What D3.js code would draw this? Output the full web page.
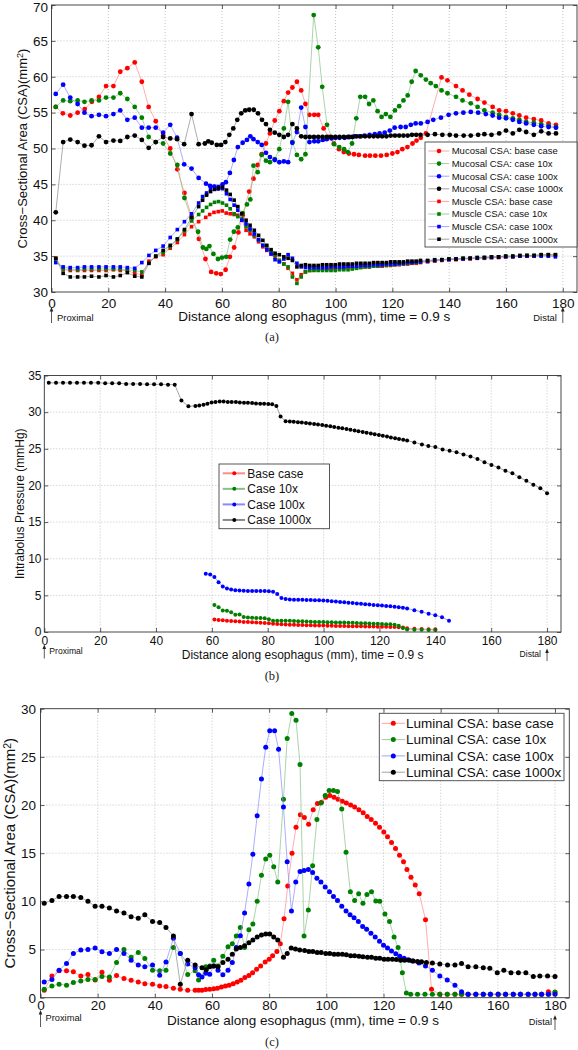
<!DOCTYPE html>
<html><head><meta charset="utf-8">
<script src="https://cdn.jsdelivr.net/npm/d3@7"></script>
<style>
body{margin:0;background:#fff;}
svg{display:block;font-family:"Liberation Sans",Arial,Helvetica,sans-serif;}
</style></head><body>
<svg id="chart" width="578" height="1050"></svg>
<script>
// ---------------- tick labels ----------------
const xTicks = [0,20,40,60,80,100,120,140,160,180];
const aYTicks = [30,35,40,45,50,55,60,65,70];
const bYTicks = [0,5,10,15,20,25,30,35];
const cYTicks = [0,5,10,15,20,25,30];

// ---------------- panel (a): mucosal CSA ----------------
const aMucBase = [[1.5,55.8],[4.0,54.9],[6.6,54.6],[9.2,55.0],[11.7,55.5],[14.2,56.5],[16.7,57.2],[19.2,58.7],[21.8,58.7],[24.2,60.7],[26.7,61.2],[29.3,62.0],[31.8,59.3],[34.2,55.8],[36.7,53.8],[39.3,51.8],[41.8,50.0],[44.3,47.1],[46.8,43.8],[49.3,40.5],[51.9,37.4],[54.2,34.6],[56.2,32.8],[58.0,32.6],[59.6,32.5],[61.3,33.1],[62.8,34.9],[64.3,36.2],[65.8,38.3],[67.3,40.7],[69.6,44.0],[71.1,45.8],[72.6,47.7],[74.0,49.2],[75.5,50.7],[76.9,52.1],[78.6,53.9],[80.2,55.2],[81.8,56.6],[83.3,57.8],[84.8,58.5],[86.4,59.3],[87.9,58.1],[89.4,56.2],[90.8,54.7],[92.5,54.7],[93.9,54.7],[95.8,52.8],[97.6,51.6],[99.4,50.7],[101.2,49.9],[102.9,49.5],[104.7,49.3],[106.5,49.2],[108.2,49.1],[110.4,49.0],[112.1,49.0],[114.0,49.0],[116.0,49.0],[118.0,49.1],[120.0,49.3],[121.8,49.5],[123.5,49.9],[125.3,50.2],[127.1,50.7],[128.5,51.1],[130.0,51.5],[131.8,52.1],[137.3,59.9],[139.4,59.5],[142.4,58.7],[144.7,58.1],[147.1,57.5],[150.0,56.9],[152.4,56.4],[155.3,55.8],[157.6,55.3],[160.0,55.2],[162.4,54.9],[164.7,54.6],[167.1,54.3],[169.8,54.1],[172.4,53.9],[175.0,53.5],[177.6,53.3]];
const aMuc10x = [[1.5,55.8],[4.1,56.7],[6.6,56.6],[9.2,56.7],[11.6,56.5],[14.1,56.7],[16.7,56.7],[19.2,57.1],[21.8,57.1],[24.2,57.7],[26.7,56.9],[29.3,55.8],[31.8,54.3],[34.2,51.6],[36.7,50.9],[39.3,50.7],[41.8,49.3],[44.3,47.7],[46.8,43.1],[49.3,40.2],[51.6,38.4],[53.3,36.2],[54.5,36.0],[55.6,36.4],[57.0,35.3],[58.6,34.6],[60.0,34.8],[61.5,34.9],[62.9,37.3],[64.2,38.4],[65.6,39.0],[67.3,41.0],[68.8,42.2],[70.0,42.9],[71.1,47.6],[72.6,46.7],[74.0,49.1],[75.5,48.3],[76.9,48.1],[78.6,48.5],[80.2,49.9],[81.8,52.8],[83.3,56.5],[84.8,50.9],[86.4,49.1],[87.9,48.5],[89.4,49.2],[92.3,68.6],[93.9,64.1],[95.3,58.6],[97.0,53.3],[99.5,50.6],[101.3,50.2],[103.0,49.9],[104.3,49.5],[105.8,50.7],[107.3,54.2],[108.7,57.2],[110.4,57.2],[111.8,56.2],[113.3,56.7],[114.8,55.2],[116.2,54.4],[117.7,54.8],[119.3,54.4],[120.9,55.3],[122.4,55.9],[123.9,56.7],[125.4,57.4],[126.8,59.3],[128.2,60.8],[130.0,60.2],[131.8,59.6],[133.5,59.1],[135.3,58.7],[137.3,58.1],[139.4,57.7],[142.4,57.2],[144.7,56.7],[147.6,56.3],[150.0,55.8],[152.4,55.3],[155.3,55.0],[157.6,54.7],[160.0,54.4],[162.4,54.2],[164.7,54.0],[167.1,53.7],[169.8,53.6],[172.4,53.4],[175.0,53.2],[177.6,53.0]];
const aMuc100x = [[1.5,57.6],[4.1,58.9],[6.6,57.1],[9.2,56.2],[11.6,55.0],[14.1,54.5],[16.7,54.7],[19.2,54.5],[21.8,54.8],[24.2,55.3],[26.7,54.0],[29.3,54.3],[31.8,52.9],[34.2,52.9],[36.7,52.9],[39.3,52.2],[41.8,53.3],[44.2,51.5],[46.7,47.8],[49.3,47.2],[51.8,45.9],[54.4,45.1],[55.8,44.8],[57.3,44.7],[58.7,44.4],[60.2,45.0],[61.4,45.3],[62.8,46.6],[64.2,48.4],[65.6,50.2],[67.3,50.8],[68.8,51.2],[70.0,51.7],[71.1,51.3],[72.6,50.9],[74.0,50.5],[75.5,49.4],[76.9,48.8],[78.6,48.4],[80.2,48.1],[81.8,48.2],[83.3,48.1],[84.8,50.8],[86.4,52.3],[87.9,55.7],[89.4,53.0],[90.8,50.9],[92.5,51.0],[93.9,51.0],[95.5,51.2],[96.9,51.3],[98.6,51.4],[100.0,51.5],[101.4,51.5],[103.2,51.5],[104.9,51.6],[106.7,51.7],[108.5,51.7],[110.2,51.8],[112.0,51.9],[113.8,52.0],[115.5,52.1],[117.3,52.2],[119.1,52.5],[120.8,52.9],[122.9,53.0],[124.7,53.0],[126.5,53.3],[128.2,53.5],[130.0,53.5],[132.4,53.7],[134.4,54.0],[137.1,54.3],[139.8,54.7],[142.4,54.9],[145.0,55.0],[147.6,55.1],[150.2,55.0],[152.9,54.8],[155.3,54.6],[157.6,54.3],[160.0,54.2],[162.4,54.0],[164.7,53.7],[167.1,53.5],[169.8,53.3],[172.4,53.1],[175.0,53.0],[177.6,52.9]];
const aMuc1000x = [[1.5,41.1],[4.1,50.9],[6.6,51.25],[9.2,50.9],[11.6,50.4],[14.1,50.45],[16.7,51.7],[19.2,50.9],[21.8,51.1],[24.2,51.05],[26.7,51.6],[29.3,51.8],[31.8,51.2],[34.2,50.1],[36.7,50.9],[39.3,51.6],[41.8,51.4],[44.2,51.3],[46.7,50.6],[49.3,54.8],[51.8,50.6],[54.0,50.7],[55.2,51.0],[56.4,50.8],[58.2,50.5],[59.7,50.5],[61.2,50.9],[62.6,51.9],[64.0,52.8],[65.4,54.0],[66.8,54.9],[68.2,55.3],[69.6,55.4],[71.2,55.4],[72.7,54.9],[74.1,54.0],[75.5,53.4],[76.9,52.6],[78.6,52.2],[80.2,51.9],[81.8,51.6],[83.3,51.9],[84.8,53.4],[86.4,52.8],[87.9,51.7],[89.4,51.6],[90.9,51.6],[92.4,51.6],[93.9,51.6],[95.4,51.6],[96.9,51.6],[98.4,51.6],[99.9,51.6],[101.4,51.6],[102.9,51.6],[104.4,51.6],[105.9,51.6],[107.4,51.7],[108.9,51.7],[110.4,51.7],[111.9,51.7],[113.4,51.7],[114.9,51.7],[116.4,51.7],[117.9,51.7],[119.4,51.8],[120.9,51.8],[122.4,51.8],[123.9,51.8],[125.4,51.8],[126.9,51.9],[128.4,51.9],[129.9,51.9],[132.4,51.9],[135.0,52.0],[137.6,51.9],[140.2,51.9],[142.4,51.8],[145.1,51.8],[147.6,51.8],[150.2,51.9],[152.4,52.0],[154.9,51.9],[157.6,52.1],[160.0,52.5],[162.4,52.1],[164.7,52.6],[167.1,52.3],[169.8,51.9],[172.4,52.4],[175.0,52.1],[177.6,52.1]];

// ---------------- panel (a): muscle CSA ----------------
const aMusBase = [[1.5,34.7],[4.1,33.1],[6.6,33.0],[9.2,33.0],[11.6,33.0],[14.1,33.0],[16.7,33.0],[19.2,33.0],[21.8,33.1],[24.2,33.0],[26.7,33.0],[29.3,32.6],[31.8,32.4],[34.3,34.3],[36.7,34.9],[39.3,35.2],[41.8,36.1],[44.3,36.9],[46.8,38.0],[49.3,39.1],[51.8,39.8],[54.3,40.4],[55.7,40.8],[57.2,41.1],[58.7,41.2],[60.1,41.3],[61.5,41.0],[62.9,40.9],[64.3,40.8],[65.6,40.7],[67.0,40.0],[68.5,38.6],[69.9,38.1],[71.4,37.7],[72.9,37.0],[74.4,36.3],[75.8,35.8],[77.3,35.3],[78.7,34.9],[80.2,34.4],[81.8,33.9],[83.3,33.3],[84.8,32.6],[86.4,31.7],[87.9,32.4],[89.4,32.8],[90.9,33.0],[92.4,33.1],[93.9,33.1],[95.4,33.2],[96.9,33.2],[98.4,33.2],[99.9,33.3],[101.4,33.3],[102.9,33.3],[104.4,33.4],[105.9,33.4],[107.4,33.4],[108.9,33.5],[110.4,33.5],[111.9,33.5],[113.4,33.6],[114.9,33.6],[116.4,33.6],[117.9,33.7],[119.4,33.7],[120.9,33.8],[122.4,33.8],[123.9,33.9],[125.4,33.9],[126.9,34.0],[128.4,34.0],[129.9,34.1],[132.4,34.2],[134.9,34.3],[137.4,34.4],[139.9,34.5],[142.4,34.5],[144.9,34.6],[147.4,34.6],[149.9,34.7],[152.4,34.7],[154.9,34.8],[157.4,34.8],[159.9,34.9],[162.4,34.9],[164.9,35.0],[167.4,35.0],[169.9,35.0],[172.4,35.1],[174.9,35.1],[177.4,35.1]];
const aMus10x = [[1.5,34.5],[4.1,33.2],[6.6,33.2],[9.2,33.1],[11.6,33.2],[14.1,33.2],[16.7,33.2],[19.2,33.2],[21.8,33.2],[24.2,33.2],[26.7,33.1],[29.3,33.0],[31.8,32.8],[34.3,34.0],[36.7,35.0],[39.3,35.5],[41.8,36.3],[44.3,37.3],[46.8,38.5],[49.3,39.9],[51.8,40.8],[53.2,41.3],[54.6,41.8],[56.0,42.2],[57.4,42.5],[58.8,42.6],[60.2,42.4],[61.6,42.1],[62.9,41.6],[64.3,40.9],[65.6,40.5],[67.0,40.2],[68.5,39.1],[69.9,38.6],[71.4,37.9],[72.9,37.2],[74.4,36.5],[75.8,36.0],[77.3,35.6],[78.7,35.1],[80.2,34.4],[81.8,33.9],[83.3,33.5],[84.8,32.1],[86.4,31.2],[87.9,32.1],[89.4,32.8],[90.9,33.0],[92.4,33.0],[93.9,33.0],[95.4,33.0],[96.9,33.0],[98.4,33.0],[99.9,33.0],[101.4,33.1],[102.9,33.1],[104.4,33.1],[105.9,33.2],[107.4,33.3],[108.9,33.4],[110.4,33.5],[111.9,33.5],[113.4,33.6],[114.9,33.6],[116.4,33.7],[117.9,33.7],[119.4,33.8],[120.9,33.8],[122.4,33.9],[123.9,33.9],[125.4,34.0],[126.9,34.1],[128.4,34.1],[129.9,34.2],[132.4,34.3],[134.9,34.4],[137.4,34.5],[139.9,34.6],[142.4,34.6],[144.9,34.7],[147.4,34.7],[149.9,34.8],[152.4,34.8],[154.9,34.9],[157.4,34.9],[159.9,35.0],[162.4,35.0],[164.9,35.0],[167.4,35.1],[169.9,35.1],[172.4,35.2],[174.9,35.2],[177.4,35.2]];
const aMus100x = [[1.5,34.1],[4.1,33.5],[6.6,33.4],[9.2,33.4],[11.6,33.5],[14.1,33.5],[16.7,33.5],[19.2,33.5],[21.8,33.5],[24.2,33.5],[26.7,33.4],[29.3,33.3],[31.8,34.1],[34.3,35.1],[36.7,35.8],[39.3,36.4],[41.8,37.6],[44.3,38.7],[46.8,39.8],[49.3,40.9],[51.8,42.4],[53.2,43.3],[54.6,43.8],[56.0,44.4],[57.4,44.7],[58.8,44.7],[60.2,44.4],[61.6,43.7],[62.9,42.9],[64.3,42.1],[65.6,41.4],[67.0,40.0],[68.5,39.5],[69.9,38.8],[71.4,38.1],[72.9,37.3],[74.4,36.5],[75.8,35.9],[77.3,35.3],[78.7,34.5],[80.2,34.2],[81.8,34.6],[83.3,35.2],[84.8,34.7],[86.4,34.0],[87.9,33.5],[89.4,33.4],[90.9,33.4],[92.4,33.4],[93.9,33.4],[95.4,33.4],[96.9,33.4],[98.4,33.5],[99.9,33.5],[101.4,33.5],[102.9,33.5],[104.4,33.6],[105.9,33.6],[107.4,33.6],[108.9,33.7],[110.4,33.7],[111.9,33.7],[113.4,33.8],[114.9,33.8],[116.4,33.8],[117.9,33.9],[119.4,33.9],[120.9,33.9],[122.4,34.0],[123.9,34.0],[125.4,34.1],[126.9,34.1],[128.4,34.2],[129.9,34.2],[132.4,34.3],[134.9,34.4],[137.4,34.5],[139.9,34.5],[142.4,34.6],[144.9,34.6],[147.4,34.7],[149.9,34.7],[152.4,34.8],[154.9,34.8],[157.4,34.9],[159.9,34.9],[162.4,34.9],[164.9,35.0],[167.4,35.0],[169.9,35.0],[172.4,35.0],[174.9,35.0],[177.4,34.9]];
const aMus1000x = [[1.5,34.7],[4.1,32.6],[6.6,32.1],[9.2,32.1],[11.6,32.1],[14.1,32.2],[16.7,32.1],[19.2,32.3],[21.8,32.1],[24.2,32.3],[26.7,32.7],[29.3,32.2],[31.8,32.1],[34.3,34.0],[36.7,35.0],[39.3,35.8],[41.8,36.5],[44.3,37.4],[46.8,38.7],[49.3,40.4],[51.8,41.9],[53.2,42.8],[54.6,43.5],[56.0,44.0],[57.4,44.3],[58.8,44.5],[60.2,44.6],[61.6,44.2],[62.9,43.6],[64.3,42.8],[65.6,41.9],[67.0,40.9],[68.5,40.0],[69.9,39.3],[71.4,38.6],[72.9,37.9],[74.4,37.2],[75.8,36.5],[77.3,35.9],[78.7,35.4],[80.2,35.2],[81.8,34.9],[83.3,34.7],[84.8,34.4],[86.4,33.5],[87.9,33.7],[89.4,33.8],[90.9,33.7],[92.4,33.7],[93.9,33.7],[95.4,33.8],[96.9,33.8],[98.4,33.8],[99.9,33.8],[101.4,33.9],[102.9,33.9],[104.4,33.9],[105.9,33.9],[107.4,34.0],[108.9,34.0],[110.4,34.0],[111.9,34.0],[113.4,34.1],[114.9,34.1],[116.4,34.1],[117.9,34.1],[119.4,34.2],[120.9,34.2],[122.4,34.2],[123.9,34.2],[125.4,34.3],[126.9,34.3],[128.4,34.3],[129.9,34.4],[132.4,34.4],[134.9,34.5],[137.4,34.5],[139.9,34.6],[142.4,34.6],[144.9,34.7],[147.4,34.7],[149.9,34.8],[152.4,34.8],[154.9,34.9],[157.4,34.9],[159.9,35.0],[162.4,35.0],[164.9,35.1],[167.4,35.1],[169.9,35.1],[172.4,35.2],[174.9,35.2],[177.4,35.2]];

// ---------------- panel (b): intrabolus pressure ----------------
const bBase = [[60.9,1.7],[62.4,1.65],[63.9,1.6],[65.4,1.55],[66.9,1.5],[68.4,1.45],[69.9,1.42],[71.4,1.38],[72.9,1.35],[74.4,1.32],[75.9,1.3],[77.4,1.27],[78.9,1.22],[80.4,1.18],[81.9,1.12],[83.4,1.08],[84.9,1.05],[86.4,1.03],[87.9,1.0],[89.4,0.98],[90.9,0.96],[92.4,0.95],[93.9,0.93],[95.4,0.92],[96.9,0.9],[98.4,0.88],[99.9,0.87],[101.4,0.85],[102.9,0.84],[104.4,0.83],[105.9,0.82],[107.4,0.81],[108.9,0.8],[110.4,0.79],[111.9,0.78],[113.4,0.77],[114.9,0.76],[116.4,0.75],[117.9,0.74],[119.4,0.73],[120.9,0.72],[122.4,0.7],[123.9,0.69],[125.4,0.67],[126.9,0.65],[128.4,0.6],[129.9,0.52],[132.5,0.45],[135.1,0.42],[137.6,0.38],[140.0,0.36]];
const b10x = [[60.9,3.68],[62.4,3.37],[63.9,2.95],[65.4,2.9],[66.9,2.7],[68.4,2.35],[69.9,2.4],[71.4,2.05],[72.9,1.97],[74.4,1.94],[75.9,1.92],[77.4,1.9],[78.9,1.86],[80.4,1.73],[81.9,1.55],[83.4,1.55],[84.9,1.55],[86.4,1.55],[87.9,1.53],[89.4,1.5],[90.9,1.47],[92.4,1.45],[93.9,1.43],[95.4,1.4],[96.9,1.38],[98.4,1.36],[99.9,1.35],[101.4,1.33],[102.9,1.32],[104.4,1.3],[105.9,1.3],[107.4,1.28],[108.9,1.27],[110.4,1.25],[111.9,1.23],[113.4,1.2],[114.9,1.18],[116.4,1.16],[117.9,1.14],[119.4,1.12],[120.9,1.1],[122.4,1.07],[123.9,1.05],[125.4,1.0],[126.9,0.85],[128.4,0.55],[129.9,0.35],[132.5,0.3],[135.1,0.3],[137.6,0.28],[140.0,0.28]];
const b100x = [[57.8,7.95],[59.4,7.85],[60.9,7.5],[62.4,6.8],[63.9,6.2],[65.4,5.95],[66.9,5.8],[68.4,5.7],[69.9,5.65],[71.4,5.62],[72.9,5.6],[74.4,5.6],[75.9,5.6],[77.4,5.58],[78.9,5.58],[80.4,5.55],[81.9,5.5],[83.4,5.2],[84.9,4.65],[86.4,4.5],[87.9,4.42],[89.4,4.4],[90.9,4.4],[92.4,4.4],[93.9,4.38],[95.4,4.36],[96.9,4.34],[98.4,4.32],[99.9,4.3],[101.4,4.25],[102.9,4.2],[104.4,4.15],[105.9,4.1],[107.4,4.05],[108.9,4.0],[110.4,3.95],[111.9,3.9],[113.4,3.85],[114.9,3.8],[116.4,3.75],[117.9,3.7],[119.4,3.65],[120.9,3.6],[122.4,3.55],[123.9,3.5],[125.4,3.44],[126.9,3.38],[128.4,3.3],[129.9,3.2],[132.5,2.98],[135.1,2.75],[137.6,2.5],[140.0,2.3],[142.4,2.0],[144.9,1.55]];
const b1000x = [[1.6,34.0],[4.2,34.0],[6.7,34.0],[9.2,34.0],[11.7,34.0],[14.2,34.0],[16.7,34.0],[19.3,34.0],[21.8,33.95],[24.3,33.95],[26.8,33.95],[29.3,33.85],[31.8,33.85],[34.3,33.85],[36.8,33.8],[39.3,33.8],[41.8,33.8],[44.3,33.75],[46.7,33.75],[49.1,31.6],[51.6,30.8],[54.1,30.85],[55.5,30.9],[57.0,31.0],[58.4,31.15],[59.9,31.33],[61.3,31.4],[62.8,31.45],[64.2,31.45],[65.7,31.4],[67.1,31.4],[68.6,31.38],[70.0,31.33],[71.5,31.28],[72.9,31.28],[74.4,31.24],[75.8,31.19],[77.3,31.15],[78.7,31.15],[80.2,31.12],[81.6,31.06],[83.1,30.83],[84.6,29.4],[86.4,28.76],[87.9,28.72],[89.3,28.68],[90.8,28.63],[92.2,28.58],[93.7,28.52],[95.1,28.46],[96.6,28.39],[98.0,28.32],[99.5,28.24],[100.9,28.15],[102.4,28.06],[103.8,27.97],[105.3,27.88],[106.7,27.79],[108.2,27.69],[109.6,27.6],[111.1,27.5],[112.5,27.4],[114.0,27.3],[115.4,27.2],[116.9,27.1],[118.3,26.99],[119.8,26.88],[121.2,26.77],[122.7,26.66],[124.1,26.55],[125.6,26.44],[127.0,26.33],[128.5,26.22],[129.9,26.12],[132.5,25.87],[135.2,25.6],[137.5,25.37],[140.0,25.23],[142.6,24.9],[145.1,24.72],[147.6,24.54],[150.1,24.22],[152.6,23.94],[155.1,23.62],[157.6,23.17],[160.1,22.8],[162.6,22.43],[165.1,22.0],[167.6,21.65],[170.1,21.1],[172.6,20.64],[175.1,20.1],[177.6,19.63],[180.0,18.94]];

// ---------------- panel (c): luminal CSA ----------------
const cBase = [[1.3,0.77],[4.0,2.26],[6.5,2.8],[9.1,2.8],[11.5,2.7],[14.1,2.26],[16.6,2.4],[19.1,1.85],[21.5,2.65],[24.1,1.8],[26.6,2.3],[29.2,2.0],[31.7,1.8],[34.2,1.64],[36.5,1.46],[39.2,1.4],[41.7,1.22],[43.9,1.15],[46.5,0.97],[48.9,0.87],[51.5,0.77],[54.1,0.77],[55.3,0.77],[56.5,0.77],[57.8,0.84],[59.2,0.87],[60.6,0.94],[61.9,0.97],[63.3,1.1],[64.7,1.22],[66.0,1.3],[67.4,1.46],[68.8,1.64],[70.1,1.8],[71.5,2.1],[72.9,2.3],[74.2,2.6],[75.6,2.96],[77.0,3.3],[78.6,3.7],[80.0,4.0],[81.2,4.35],[82.7,4.8],[83.9,5.6],[85.2,8.2],[86.5,11.6],[88.0,15.0],[89.4,17.7],[90.9,19.0],[92.3,18.7],[93.8,18.0],[95.4,19.5],[96.9,20.15],[98.3,20.3],[99.8,20.8],[101.2,21.0],[102.7,20.8],[104.1,20.6],[105.6,20.4],[107.0,20.2],[108.5,20.0],[109.9,19.8],[111.4,19.5],[112.9,19.2],[114.3,18.8],[115.7,18.5],[117.2,18.1],[118.6,17.7],[120.1,17.2],[121.4,16.7],[122.8,16.1],[124.2,15.5],[125.6,14.8],[127.0,14.1],[128.2,13.3],[129.6,12.5],[131.1,11.7],[132.5,10.8],[134.7,8.1],[136.8,0.87],[139.7,0.35],[142.3,0.35],[145.0,0.35],[147.3,0.35],[149.6,0.35],[152.3,0.35],[154.9,0.35],[157.4,0.35],[160.1,0.35],[162.7,0.35],[165.4,0.35],[167.9,0.35],[170.6,0.35],[173.0,0.35],[175.3,0.35],[177.7,0.63],[180.0,0.55]];
const c10x = [[1.3,0.87],[4.0,1.22],[6.5,1.4],[9.1,1.3],[11.5,1.57],[14.1,1.74],[16.6,1.9],[19.1,1.9],[21.5,2.2],[24.1,2.15],[26.6,3.65],[29.2,5.0],[31.7,4.2],[34.2,4.7],[36.5,4.07],[39.2,2.85],[41.7,2.8],[43.9,2.85],[46.5,5.2],[48.9,4.6],[51.5,2.4],[54.1,2.8],[55.3,1.85],[57.8,3.2],[59.2,3.3],[60.6,3.9],[62.1,3.3],[63.8,4.3],[65.6,5.3],[67.1,5.6],[68.5,6.4],[69.9,7.3],[71.4,5.2],[72.9,7.05],[74.3,7.65],[75.8,10.0],[77.3,12.7],[78.8,14.4],[80.2,14.8],[81.6,13.6],[83.0,12.0],[85.0,20.6],[86.3,26.9],[87.9,29.5],[89.4,28.8],[90.8,24.2],[92.2,6.4],[93.7,9.1],[95.2,13.7],[96.7,18.5],[98.1,20.2],[99.6,21.0],[101.0,21.5],[102.5,21.5],[103.9,21.4],[105.4,19.6],[106.9,15.1],[108.4,11.0],[109.9,10.1],[111.3,10.8],[112.8,9.8],[114.2,10.7],[115.8,11.0],[117.3,10.05],[118.7,10.0],[120.5,8.7],[122.1,7.9],[123.7,6.3],[125.1,5.2],[126.6,2.6],[128.0,0.5],[129.5,0.35],[131.9,0.35],[134.5,0.35],[137.1,0.35],[139.7,0.35],[142.3,0.35],[145.0,0.35],[147.3,0.35],[149.6,0.35],[152.3,0.35],[154.9,0.35],[157.4,0.35],[160.1,0.35],[162.7,0.35],[165.4,0.35],[167.9,0.35],[170.6,0.35],[173.0,0.35],[175.3,0.35],[177.7,0.35],[180.0,0.6]];
const c100x = [[1.3,1.64],[4.0,1.9],[6.5,2.85],[9.1,3.55],[11.5,4.6],[14.1,4.95],[16.6,5.0],[19.1,5.15],[21.5,4.77],[24.1,4.6],[26.6,5.0],[29.2,4.6],[31.7,3.9],[34.2,3.4],[36.5,3.2],[39.2,3.4],[41.7,2.33],[43.9,3.7],[46.5,6.16],[48.9,4.6],[51.5,3.5],[54.1,3.1],[55.3,2.37],[56.5,2.16],[57.8,2.54],[59.2,2.44],[60.6,3.3],[62.1,2.85],[63.8,2.37],[65.6,2.85],[67.1,3.65],[68.5,5.2],[69.9,6.44],[71.4,8.8],[72.9,11.8],[74.3,14.9],[75.8,18.9],[77.3,22.7],[78.8,26.0],[80.2,27.7],[81.9,27.7],[83.3,25.8],[85.0,19.8],[86.3,14.1],[87.8,9.0],[89.3,12.0],[90.8,13.1],[92.2,13.2],[93.7,13.3],[95.2,13.0],[96.7,12.4],[98.1,12.0],[99.6,11.5],[101.1,11.0],[102.5,10.5],[103.9,10.1],[105.4,9.5],[106.9,9.0],[108.3,8.6],[109.7,8.3],[111.2,7.9],[112.7,7.4],[114.1,7.1],[115.6,6.7],[117.1,6.3],[118.6,5.85],[120.0,5.45],[121.4,5.15],[122.8,4.85],[124.3,4.55],[125.7,4.3],[127.2,4.1],[128.6,3.95],[130.1,3.8],[132.4,3.6],[134.7,3.3],[137.1,2.86],[139.7,2.26],[142.3,1.85],[145.0,1.3],[147.3,0.63],[149.6,0.35],[152.3,0.35],[154.9,0.35],[157.4,0.35],[160.1,0.35],[162.7,0.35],[165.4,0.35],[167.9,0.35],[170.6,0.35],[173.0,0.35],[175.3,0.35],[177.7,0.35],[180.0,0.35]];
const c1000x = [[1.3,9.8],[4.0,10.1],[6.5,10.5],[9.1,10.5],[11.5,10.5],[14.1,10.4],[16.6,10.0],[19.1,9.5],[21.5,9.5],[24.1,9.3],[26.6,9.0],[29.2,8.8],[31.7,8.4],[34.2,8.25],[36.5,8.6],[39.2,7.9],[41.7,7.8],[43.9,7.3],[46.5,6.4],[48.9,1.4],[51.5,3.9],[54.1,3.4],[56.5,3.1],[58.0,2.9],[59.2,3.2],[60.6,3.3],[62.1,3.2],[63.8,3.65],[65.6,4.0],[67.1,4.5],[68.5,5.05],[69.9,5.2],[71.4,5.4],[72.9,5.7],[74.3,6.0],[75.8,6.3],[77.3,6.5],[78.8,6.6],[80.2,6.6],[81.6,6.3],[83.0,6.0],[85.0,4.2],[86.3,4.6],[87.7,5.15],[89.2,5.05],[90.7,4.95],[92.4,4.9],[93.9,4.8],[95.3,4.8],[96.8,4.7],[98.2,4.7],[99.8,4.6],[101.2,4.6],[102.7,4.5],[104.1,4.5],[105.6,4.5],[107.0,4.45],[108.5,4.35],[109.9,4.35],[111.4,4.3],[112.8,4.25],[114.4,4.2],[115.8,4.2],[117.3,4.1],[118.7,4.1],[120.2,4.0],[121.6,4.0],[123.1,4.0],[124.5,3.97],[126.0,3.9],[127.4,3.9],[129.0,3.9],[130.4,3.8],[131.9,3.76],[133.3,3.73],[135.0,3.66],[137.1,3.6],[139.7,3.5],[142.4,3.4],[145.0,3.4],[147.3,3.55],[149.6,3.2],[152.3,3.2],[154.9,3.1],[157.2,3.05],[159.8,2.6],[162.1,2.85],[164.6,2.6],[167.2,2.6],[169.8,2.6],[172.4,2.2],[174.7,2.25],[177.4,2.25],[180.0,2.2]];

// ---------------- legend labels ----------------
const aLegend = ["Mucosal CSA: base case","Mucosal CSA: case 10x","Mucosal CSA: case 100x","Mucosal CSA: case 1000x","Muscle CSA: base case","Muscle CSA: case 10x","Muscle CSA: case 100x","Muscle CSA: case 1000x"];
const bLegend = ["Base case","Case 10x","Case 100x","Case 1000x"];
const cLegend = ["Luminal CSA: base case","Luminal CSA: case 10x","Luminal CSA: case 100x","Luminal CSA: case 1000x"];
const xLabel = "Distance along esophagus (mm), time = 0.9 s";

// ---------------- styling ----------------
const markColor = {red:"#ff0000", green:"#008000", blue:"#0000ff", black:"#000000"};
const lineColor = {red:"#ff8a8a", green:"#86c286", blue:"#8a8aff", black:"#8a8a8a"};

const svg = d3.select("#chart");

function drawPanel(p) {
  const g = svg.append("g");
  const x = d3.scaleLinear().domain([0,185]).range([p.L, p.R]);
  const y = d3.scaleLinear().domain(p.yDom).range([p.B, p.T]);

  // grid
  g.append("g").selectAll("line").data(xTicks.filter(t => t > 0)).join("line")
    .attr("x1", d => x(d)).attr("x2", d => x(d)).attr("y1", p.T).attr("y2", p.B)
    .attr("stroke", "#b5b5b5").attr("stroke-width", 0.8).attr("stroke-dasharray", "1,2");
  g.append("g").selectAll("line").data(p.yTicks.filter(t => t > p.yDom[0] && t < p.yDom[1])).join("line")
    .attr("x1", p.L).attr("x2", p.R).attr("y1", d => y(d)).attr("y2", d => y(d))
    .attr("stroke", "#b5b5b5").attr("stroke-width", 0.8).attr("stroke-dasharray", "1,2");

  // series
  const line = d3.line().x(d => x(d[0])).y(d => y(d[1]));
  p.series.forEach(s => {
    g.append("path").datum(s.data).attr("d", line).attr("fill", "none")
      .attr("stroke", lineColor[s.color]).attr("stroke-width", p.lw);
    const mg = g.append("g");
    if (s.marker === "square") {
      mg.selectAll("rect").data(s.data).join("rect")
        .attr("x", d => x(d[0]) - p.sq/2).attr("y", d => y(d[1]) - p.sq/2)
        .attr("width", p.sq).attr("height", p.sq).attr("fill", markColor[s.color]);
    } else {
      mg.selectAll("circle").data(s.data).join("circle")
        .attr("cx", d => x(d[0])).attr("cy", d => y(d[1])).attr("r", p.r)
        .attr("fill", markColor[s.color]);
    }
  });

  // axes
  const styleAxis = (a, fs) => {
    a.select(".domain").remove();
    a.selectAll(".tick line").attr("stroke", "#333").attr("stroke-width", 0.8);
    a.selectAll("text").attr("font-size", fs).attr("fill", "#111")
      .attr("font-family", "Liberation Sans, Arial, sans-serif");
    return a;
  };
  styleAxis(g.append("g").attr("transform", `translate(0,${p.B})`)
    .call(d3.axisBottom(x).tickValues(xTicks).tickSize(-4).tickPadding(p.xPad)), p.fs);
  styleAxis(g.append("g").attr("transform", `translate(0,${p.T})`)
    .call(d3.axisTop(x).tickValues(xTicks).tickSize(-4).tickFormat("")), p.fs);
  const yAx = styleAxis(g.append("g").attr("transform", `translate(${p.L},0)`)
    .call(d3.axisLeft(y).tickValues(p.yTicks).tickSize(-4).tickPadding(p.yPad)), p.fs);
  // keep the top tick label inside the picture
  yAx.selectAll(".tick text").attr("dy", d => (y(d) - p.fs * 0.62 < 0) ? "0.45em" : "0.32em");
  styleAxis(g.append("g").attr("transform", `translate(${p.R},0)`)
    .call(d3.axisRight(y).tickValues(p.yTicks).tickSize(-4).tickFormat("")), p.fs);
  g.append("rect").attr("x", p.L).attr("y", p.T).attr("width", p.R - p.L).attr("height", p.B - p.T)
    .attr("fill", "none").attr("stroke", "#333").attr("stroke-width", 0.9);

  // axis titles
  g.append("text").attr("x", (p.L + p.R) / 2 + p.xlOff).attr("y", p.xlY).attr("text-anchor", "middle")
    .attr("font-size", p.xlFs).attr("fill", "#111").text(xLabel);
  const yl = g.append("text").attr("transform", `translate(${p.ylX},${(p.T + p.B) / 2}) rotate(-90)`)
    .attr("text-anchor", "middle").attr("dy", "0.35em").attr("font-size", p.ylFs).attr("fill", "#111");
  if (p.yLabelSup) {
    yl.append("tspan").text("Cross\u2212Sectional Area (CSA)(mm");
    yl.append("tspan").attr("font-size", p.ylFs * 0.7).attr("dy", "-0.45em").text("2");
    yl.append("tspan").attr("dy", "0.32em").text(")");
  } else {
    yl.text(p.yLabel);
  }

  // proximal / distal markers
  const arrow = (ax, top, bot) => {
    g.append("line").attr("x1", ax).attr("x2", ax).attr("y1", top + 3).attr("y2", bot)
      .attr("stroke", "#333").attr("stroke-width", 0.8);
    g.append("path").attr("d", `M${ax},${top} L${ax - 1.8},${top + 4.5} L${ax + 1.8},${top + 4.5} Z`).attr("fill", "#222");
  };
  arrow(x(0), p.arT, p.arB);
  arrow(x(180), p.arT2, p.arB2);
  g.append("text").attr("x", x(0) + p.proxOff).attr("y", p.proxY).attr("dy", "0.35em")
    .attr("font-size", p.pdFs).attr("fill", "#111").text("Proximal");
  g.append("text").attr("x", x(180) - p.distOff).attr("y", p.distY).attr("dy", "0.35em")
    .attr("text-anchor", "end").attr("font-size", p.pdFs).attr("fill", "#111").text("Distal");

  // caption
  g.append("text").attr("x", 272).attr("y", p.capY).attr("dy", "0.35em").attr("text-anchor", "middle")
    .attr("font-family", "Liberation Serif, DejaVu Serif, serif").attr("font-size", 12.5).attr("fill", "#222")
    .text(p.caption);

  // legend
  const L = p.legend;
  const lg = g.append("g");
  lg.append("rect").attr("x", L.x).attr("y", L.y).attr("width", L.w).attr("height", L.h)
    .attr("fill", "#fff").attr("stroke", "#444").attr("stroke-width", 0.9);
  p.series.forEach((s, i) => {
    const cy = L.row0 + i * L.step;
    lg.append("line").attr("x1", L.lx1).attr("x2", L.lx2).attr("y1", cy).attr("y2", cy)
      .attr("stroke", lineColor[s.color]).attr("stroke-width", L.lw);
    if (s.marker === "square") {
      lg.append("rect").attr("x", L.mx - p.sq/2).attr("y", cy - p.sq/2).attr("width", p.sq).attr("height", p.sq)
        .attr("fill", markColor[s.color]);
    } else {
      lg.append("circle").attr("cx", L.mx).attr("cy", cy).attr("r", L.r).attr("fill", markColor[s.color]);
    }
    lg.append("text").attr("x", L.tx).attr("y", cy).attr("dy", "0.36em").attr("font-size", L.fs)
      .attr("fill", "#111").text(L.labels[i]);
  });
}

drawPanel({
  L: 51.5, R: 577, T: 5, B: 292, yDom: [30,70], yTicks: aYTicks,
  fs: 13.5, xPad: 6, yPad: 3.5, lw: 0.7, r: 2.4, sq: 3.6,
  xlOff: 0, xlY: 321, xlFs: 13.5, ylX: 22.5, ylFs: 13, yLabelSup: true,
  arT: 307, arB: 323, arT2: 307, arB2: 323, proxOff: 5.5, proxY: 318, distOff: 6, distY: 318, pdFs: 9.4,
  capY: 337, caption: "(a)",
  series: [
    {data: aMucBase, color: "red", marker: "circle"},
    {data: aMuc10x, color: "green", marker: "circle"},
    {data: aMuc100x, color: "blue", marker: "circle"},
    {data: aMuc1000x, color: "black", marker: "circle"},
    {data: aMusBase, color: "red", marker: "square"},
    {data: aMus10x, color: "green", marker: "square"},
    {data: aMus100x, color: "blue", marker: "square"},
    {data: aMus1000x, color: "black", marker: "square"}
  ],
  legend: {x: 425, y: 142, w: 152, h: 105, row0: 151, step: 12.6, lx1: 428.3, lx2: 449.3, mx: 439, tx: 451.7, fs: 9.5, r: 2.3, lw: 0.8, labels: aLegend}
});

drawPanel({
  L: 44.3, R: 561, T: 375.5, B: 632, yDom: [0,35], yTicks: bYTicks,
  fs: 12, xPad: 4.5, yPad: 2.8, lw: 0.8, r: 2.0, sq: 3,
  xlOff: 0, xlY: 659, xlFs: 12, ylX: 20, ylFs: 12, yLabelSup: false, yLabel: "Intrabolus Pressure (mmHg)",
  arT: 644.5, arB: 658.5, arT2: 648.5, arB2: 661, proxOff: 5, proxY: 651, distOff: 6, distY: 654, pdFs: 8.6,
  capY: 676, caption: "(b)",
  series: [
    {data: bBase, color: "red", marker: "circle"},
    {data: b10x, color: "green", marker: "circle"},
    {data: b100x, color: "blue", marker: "circle"},
    {data: b1000x, color: "black", marker: "circle"}
  ],
  legend: {x: 219, y: 464, w: 110.5, h: 64.7, row0: 473.3, step: 15.55, lx1: 222.7, lx2: 245, mx: 234.3, tx: 247.3, fs: 12, r: 2.0, lw: 2, labels: bLegend}
});

drawPanel({
  L: 40.5, R: 569.3, T: 708.7, B: 997.7, yDom: [0,30], yTicks: cYTicks,
  fs: 13.5, xPad: 3, yPad: 4.5, lw: 0.7, r: 2.5, sq: 3.6,
  xlOff: -2, xlY: 1025, xlFs: 13.5, ylX: 10, ylFs: 15, yLabelSup: true,
  arT: 1010, arB: 1027, arT2: 1015, arB2: 1030, proxOff: 5, proxY: 1018, distOff: 3, distY: 1021.5, pdFs: 9.3,
  capY: 1041.5, caption: "(c)",
  series: [
    {data: cBase, color: "red", marker: "circle"},
    {data: c10x, color: "green", marker: "circle"},
    {data: c100x, color: "blue", marker: "circle"},
    {data: c1000x, color: "black", marker: "circle"}
  ],
  legend: {x: 379.3, y: 713.3, w: 184.7, h: 67.4, row0: 723.3, step: 16.3, lx1: 381.7, lx2: 405, mx: 393.3, tx: 406, fs: 13.5, r: 2.5, lw: 0.8, labels: cLegend}
});
</script>
</body></html>
